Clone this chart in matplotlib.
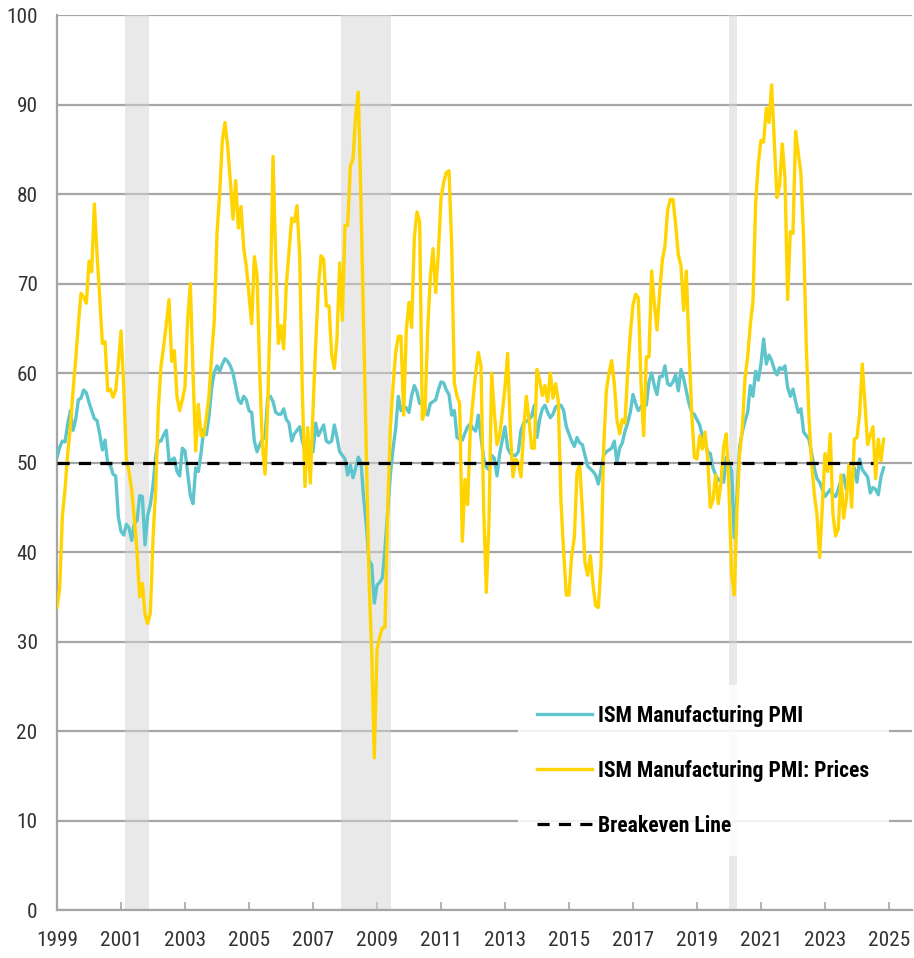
import numpy as np
import matplotlib
matplotlib.use("Agg")
import matplotlib.pyplot as plt
from matplotlib import font_manager
from matplotlib.font_manager import FontProperties

# find the narrowest installed sans font (chart uses a narrow face)
prefs = ["liberationsansnarrow", "notosansextracondensed", "robotocondensed",
         "opensanscondensed", "notosanscondensed", "dejavusanscondensed"]
skip = ["italic", "oblique", "light", "thin", "medium", "black", "semi", "extrabold"]

def find_font(bold):
    files = [f.fname for f in font_manager.fontManager.ttflist]
    for p in prefs:
        for fn in files:
            key = fn.split("/")[-1].lower().replace("-", "").replace("_", "").replace(" ", "")
            if p not in key or any(s in key for s in skip):
                continue
            if ("bold" in key) == bold:
                return fn
    return None

reg_file = find_font(False)
bold_file = find_font(True)
tick_font = FontProperties(fname=reg_file) if reg_file else FontProperties(family="Liberation Sans")
legend_font = FontProperties(fname=bold_file) if bold_file else FontProperties(family="Liberation Sans", weight="bold")

# ISM Manufacturing PMI, monthly from Jan 1999 (one row per year)
pmi = [
    50.6, 51.7, 52.4, 52.3, 54.3, 55.8, 53.6, 54.8, 57.0, 57.2, 58.1, 57.8,
    56.7, 55.8, 54.9, 54.7, 53.2, 51.4, 52.5, 49.9, 49.7, 48.7, 48.5, 43.9,
    42.3, 41.9, 43.1, 42.7, 41.3, 43.2, 43.5, 46.3, 46.2, 40.8, 44.1, 45.3,
    47.5, 50.7, 52.4, 52.4, 53.1, 53.6, 50.2, 50.3, 50.5, 49.0, 48.5, 51.6,
    51.3, 48.8, 46.3, 45.4, 49.4, 49.0, 51.0, 53.7, 53.1, 55.2, 58.4, 60.1,
    60.8, 60.2, 61.0, 61.6, 61.3, 60.8, 60.0, 58.5, 57.0, 56.6, 57.4, 57.0,
    55.8, 55.6, 52.4, 51.2, 52.0, 52.6, 52.8, 57.2, 57.4, 56.8, 55.6, 55.4,
    55.4, 56.0, 54.8, 54.4, 52.4, 53.2, 53.6, 54.0, 52.4, 51.2, 51.2, 51.2,
    51.2, 54.4, 53.0, 53.6, 54.2, 52.4, 52.2, 52.4, 54.2, 52.8, 51.2, 50.8,
    50.4, 48.6, 49.7, 48.3, 49.4, 50.6, 50.0, 46.0, 43.0, 39.0, 38.6, 34.3,
    36.3, 36.6, 37.1, 40.4, 44.5, 48.6, 51.5, 53.8, 57.4, 55.8, 56.3, 56.1,
    55.6, 57.5, 58.6, 57.9, 56.6, 56.6, 56.0, 55.3, 56.6, 56.8, 57.0, 58.1,
    59.0, 58.9, 58.1, 57.6, 55.3, 55.8, 52.8, 52.6, 52.5, 53.3, 54.0, 54.3,
    53.8, 53.5, 55.3, 52.8, 50.5, 49.5, 49.2, 50.8, 50.5, 48.5, 51.0, 52.5,
    54.0, 51.6, 51.0, 50.8, 50.8, 51.2, 53.6, 54.4, 54.6, 54.8, 55.2, 56.4,
    52.8, 54.8, 56.0, 56.4, 55.6, 55.0, 55.4, 56.2, 56.4, 56.4, 55.8, 54.0,
    53.2, 52.4, 51.8, 52.8, 52.2, 52.0, 50.8, 49.6, 49.3, 49.0, 48.6, 47.6,
    49.2, 50.8, 51.2, 51.4, 51.6, 52.4, 50.0, 51.6, 52.2, 53.5, 54.4, 55.6,
    57.6, 56.6, 55.8, 56.2, 56.6, 56.4, 59.0, 60.0, 58.6, 57.6, 59.6, 59.6,
    60.8, 58.8, 58.6, 59.0, 59.8, 58.0, 60.4, 59.4, 58.0, 56.6, 55.6, 55.4,
    54.8, 54.2, 53.0, 52.2, 51.2, 51.0, 49.4, 48.6, 48.0, 48.2, 47.8, 50.6,
    50.0, 49.0, 41.6, 46.2, 51.8, 53.4, 54.6, 55.6, 58.6, 57.4, 60.2, 59.2,
    61.0, 63.8, 61.0, 62.0, 61.4, 60.4, 59.8, 60.6, 60.4, 60.8, 58.4, 57.4,
    58.2, 56.8, 55.6, 56.0, 53.4, 53.0, 52.6, 51.0, 49.4, 48.2, 47.8, 47.0,
    46.2, 46.6, 47.0, 46.4, 46.2, 47.0, 48.0, 48.6, 47.0, 47.8, 48.2, 49.4,
    47.8, 50.4, 49.2, 48.8, 48.4, 46.6, 47.2, 47.0, 46.4, 48.4, 49.4,
]

# ISM Manufacturing PMI: Prices, monthly from Jan 1999
prices = [
    33.8, 36.0, 44.0, 47.0, 51.0, 54.0, 58.0, 61.5, 65.5, 68.9, 68.5, 67.8,
    72.5, 71.3, 78.9, 73.3, 68.5, 63.3, 63.5, 58.0, 58.2, 57.3, 58.1, 61.0,
    64.7, 58.6, 50.3, 49.0, 46.9, 43.7, 40.0, 35.0, 36.5, 33.0, 32.0, 33.2,
    41.6, 47.0, 56.0, 60.8, 63.0, 65.5, 68.2, 61.3, 62.5, 57.3, 55.8, 57.0,
    58.5, 66.0, 70.0, 60.0, 51.3, 56.5, 53.0, 53.0, 55.0, 57.5, 62.0, 66.0,
    75.6, 80.1, 86.0, 88.0, 85.3, 81.4, 77.2, 81.5, 76.2, 78.6, 74.0, 71.9,
    68.7, 65.5, 73.0, 71.0, 60.3, 51.9, 48.7, 55.9, 67.9, 84.2, 73.0, 63.3,
    65.3, 62.7, 69.9, 73.5, 77.3, 76.9, 78.7, 73.1, 57.9, 47.3, 53.9, 47.7,
    55.9, 63.1, 69.5, 73.1, 72.7, 67.5, 67.5, 62.0, 60.5, 63.9, 72.3, 65.9,
    76.5, 76.5, 83.1, 83.9, 88.8, 91.4, 79.0, 65.0, 51.0, 37.0, 29.0, 17.0,
    29.0, 30.5, 31.5, 31.6, 44.5, 53.8, 58.5, 62.3, 64.1, 64.1, 55.3, 64.9,
    67.9, 65.1, 75.1, 78.0, 76.9, 54.8, 55.6, 64.6, 70.8, 73.9, 69.0, 73.3,
    79.5, 81.3, 82.4, 82.6, 74.4, 58.9, 57.4, 56.6, 41.2, 48.1, 45.3, 53.8,
    57.0, 60.0, 62.3, 60.8, 45.0, 35.5, 43.5, 60.0, 55.6, 52.0, 53.0, 55.6,
    58.4, 62.2, 53.6, 48.4, 50.4, 50.0, 48.4, 53.6, 57.4, 54.8, 51.6, 51.6,
    60.4, 59.2, 57.5, 58.6, 56.8, 60.0, 57.2, 58.8, 56.8, 45.6, 40.0, 35.2,
    35.2, 39.6, 41.6, 48.8, 49.8, 44.8, 38.8, 37.4, 39.6, 36.4, 34.0, 33.8,
    38.4, 51.6, 58.0, 60.0, 61.4, 58.8, 54.8, 53.2, 54.8, 54.4, 60.0, 64.4,
    67.6, 68.8, 68.4, 59.0, 53.0, 61.8, 61.8, 71.4, 67.8, 64.8, 69.0, 72.6,
    74.2, 78.2, 79.4, 79.4, 76.6, 73.2, 72.0, 67.0, 71.4, 63.0, 55.8, 50.6,
    50.4, 53.0, 51.5, 53.4, 50.5, 45.0, 45.8, 48.6, 45.4, 47.8, 51.8, 53.2,
    47.0, 37.4, 35.2, 44.6, 51.0, 53.8, 59.4, 61.8, 65.4, 68.0, 79.0, 83.4,
    86.0, 85.8, 89.6, 88.0, 92.2, 86.0, 79.6, 81.0, 85.6, 81.8, 68.2, 75.8,
    75.6, 87.0, 84.6, 82.2, 75.0, 63.0, 55.0, 50.0, 46.5, 44.2, 39.4, 45.0,
    51.0, 49.0, 53.2, 44.2, 41.8, 42.6, 48.6, 43.8, 45.8, 49.8, 45.0, 52.6,
    52.8, 55.4, 61.0, 56.6, 52.0, 53.0, 54.0, 48.2, 52.6, 50.2, 52.6,
]

# recessions (start, end) as decimal years
recessions = [(2001.125, 2001.875), (2007.875, 2009.43), (2020.01, 2020.24)]
breakeven_level = 50
breakeven_span = (1999.0, 2024.5)
year_ticks = list(range(1999, 2026, 2))

dates = 1999 + np.arange(len(pmi)) / 12

fig = plt.figure(figsize=(9.14, 9.58), dpi=100)
ax = fig.add_axes([0.0624, 0.0501, 0.9354, 0.9342])
renderer = fig.canvas.get_renderer()

# size fonts by the widths seen in the chart
def fit_size(text, fp, target_px):
    t = fig.text(0, 0, text, fontproperties=fp, fontsize=20)
    bb = t.get_window_extent(renderer)
    t.remove()
    return 20 * target_px / bb.width, bb.height * target_px / bb.width

tick_size, _ = fit_size("2001", tick_font, 42)
leg_size, row_h = fit_size("ISM Manufacturing PMI: Prices", legend_font, 270)

for start, end in recessions:
    ax.axvspan(start, end, color="#d4d4d4", alpha=0.5, lw=0, zorder=2)

ax.plot(dates, pmi, color="#5fc5cd", lw=2.4, label="ISM Manufacturing PMI", zorder=3)
ax.plot(dates, prices, color="#ffd400", lw=2.4, label="ISM Manufacturing PMI: Prices", zorder=4)
ax.hlines(breakeven_level, *breakeven_span, colors="black", lw=2.3,
          linestyles=(0, (3.8, 2.9)), label="Breakeven Line", zorder=5)

ax.set_xlim(1999, 2025.72)
ax.set_ylim(0, 100)
ax.set_yticks(range(0, 101, 10))
ax.set_xticks(year_ticks)
ax.grid(axis="y", color="#a6a6a6", lw=1.6, zorder=1)
ax.set_axisbelow(True)

for side in ["top", "right"]:
    ax.spines[side].set_visible(False)
for side in ["left", "bottom"]:
    ax.spines[side].set_color("#a6a6a6")
    ax.spines[side].set_linewidth(1.6)

ax.tick_params(axis="y", length=0, pad=14, labelcolor="#333333")
ax.tick_params(axis="x", direction="in", length=6, width=1.2, color="#a6a6a6",
               pad=15, labelcolor="#333333")
for lab in ax.get_xticklabels() + ax.get_yticklabels():
    lab.set_fontproperties(tick_font)
    lab.set_fontsize(tick_size)

# legend box: top-left at (518, 685) px, rows 54 px apart
fs_px = leg_size * 100 / 72
legend_font.set_size(leg_size)
pad = max(0.1, (30 - row_h / 2) / fs_px)
leg = ax.legend(loc="upper left", bbox_to_anchor=(0.539, 0.2514), frameon=True,
                fancybox=False, framealpha=0.85, edgecolor="none",
                prop=legend_font, handlelength=55 / fs_px,
                handletextpad=6 / fs_px, labelspacing=max(0.1, (54 - row_h) / fs_px),
                borderpad=pad, borderaxespad=0)
leg.get_frame().set_facecolor("white")

fig.savefig("out.png", dpi=100)
